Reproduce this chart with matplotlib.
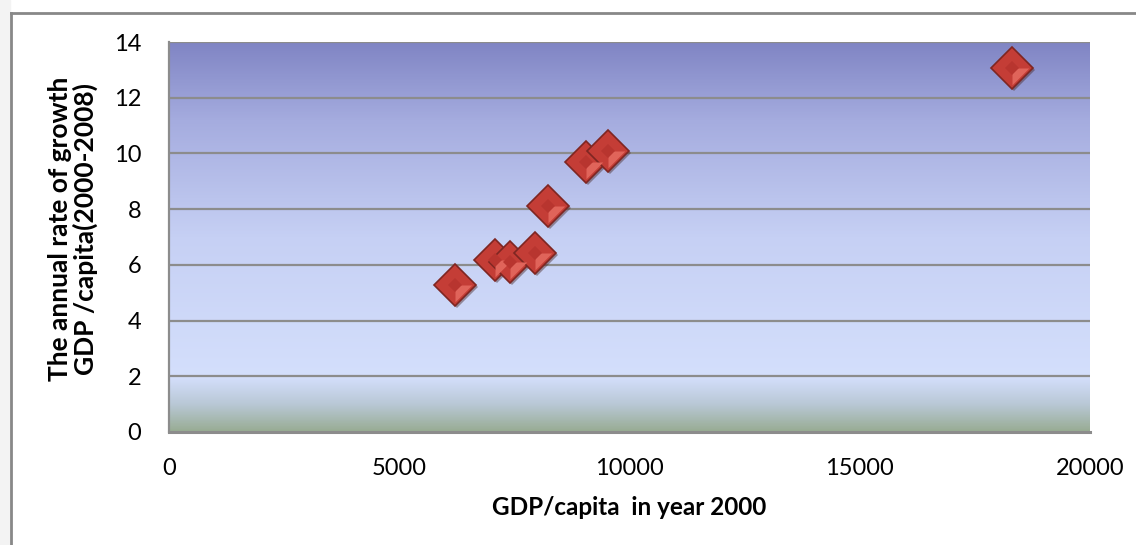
import matplotlib.pyplot as plt
import numpy as np
from matplotlib.colors import LinearSegmentedColormap
from matplotlib.patches import Rectangle
from matplotlib.lines import Line2D
import matplotlib.transforms as mtransforms

plt.rcParams['font.family'] = ['Lato', 'DejaVu Sans']

# GDP/capita in 2000 and annual growth rate 2000-2008
gdp_2000 = [6210, 7080, 7400, 7950, 8230, 9060, 9530, 18300]
growth = [5.28, 6.17, 6.10, 6.42, 8.11, 9.69, 10.09, 13.07]

x_ticks = [0, 5000, 10000, 15000, 20000]
y_ticks = [0, 2, 4, 6, 8, 10, 12, 14]

fig = plt.figure(figsize=(11.36, 5.45), dpi=100)
ax = fig.add_axes([169/1136, 1-432/545, (1090-169)/1136, (432-42)/545])

# frame of the chart object
fig.patches.append(Rectangle((0, 0), 10/1136, 1, transform=fig.transFigure,
                             color='#f3f3f3', zorder=0))
fig.lines.append(Line2D([10.5/1136, 10.5/1136], [0, 1-12.5/545],
                        transform=fig.transFigure, color='#888888', lw=2))
fig.lines.append(Line2D([10.5/1136, 1], [1-12.5/545, 1-12.5/545],
                        transform=fig.transFigure, color='#888888', lw=2))

# gradient plot area
cmap = LinearSegmentedColormap.from_list('bg', [
    (0.0, '#98ac93'), (0.07, '#b9c8d6'), (0.14, '#d4dffc'),
    (0.5, '#c6d0f4'), (0.8, '#a5acdf'), (1.0, '#8085c4')])
grad = np.linspace(0, 1, 256).reshape(-1, 1)
ax.imshow(grad, cmap=cmap, origin='lower', aspect='auto',
          extent=[0, 20000, 0, 14], zorder=0)

ax.set_xlim(0, 20000)
ax.set_ylim(0, 14)
ax.set_xticks(x_ticks)
ax.set_yticks(y_ticks)
ax.tick_params(length=0, labelsize=17, colors='black')
ax.tick_params(axis='x', pad=19)
ax.tick_params(axis='y', pad=20)

for y in y_ticks[1:]:
    ax.axhline(y, color='#8c8c8c', lw=1.6, zorder=1)
for s in ['right', 'top']:
    ax.spines[s].set_visible(False)
ax.spines['left'].set_color('#8c8c8c')
ax.spines['left'].set_linewidth(1.6)
ax.spines['bottom'].set_color('#8c8c8c')
ax.spines['bottom'].set_linewidth(2.2)

# 3d-ish diamond markers
ms = 21
shadow = ax.transData + mtransforms.ScaledTranslation(2/100, -2/100, fig.dpi_scale_trans)
for gx, gy in zip(gdp_2000, growth):
    ax.plot(gx, gy, 'D', ms=ms, color='#4a2a2a', alpha=0.45, mew=0,
            transform=shadow, zorder=3)
    ax.plot(gx, gy, 'D', ms=ms, mfc='#c43d36', mec='#7e2622', mew=1.2, zorder=4)
    ax.plot(gx, gy, marker=[(0, 0), (1, 0), (0, -1)], ms=ms*1.15,
            color='#e0645a', mew=0, zorder=5)
    ax.plot(gx, gy, 'D', ms=ms*0.35, color='#b8352f', mew=0, zorder=6)

ax.set_xlabel('GDP/capita  in year 2000', fontsize=17.5, fontweight='bold', labelpad=12)
ax.set_ylabel('The annual rate of growth\nGDP /capita(2000-2008)', fontsize=19,
              fontweight='bold', linespacing=1.05)
ax.yaxis.set_label_coords(-0.077, 0.52)

fig.savefig('out.png', dpi=100)
